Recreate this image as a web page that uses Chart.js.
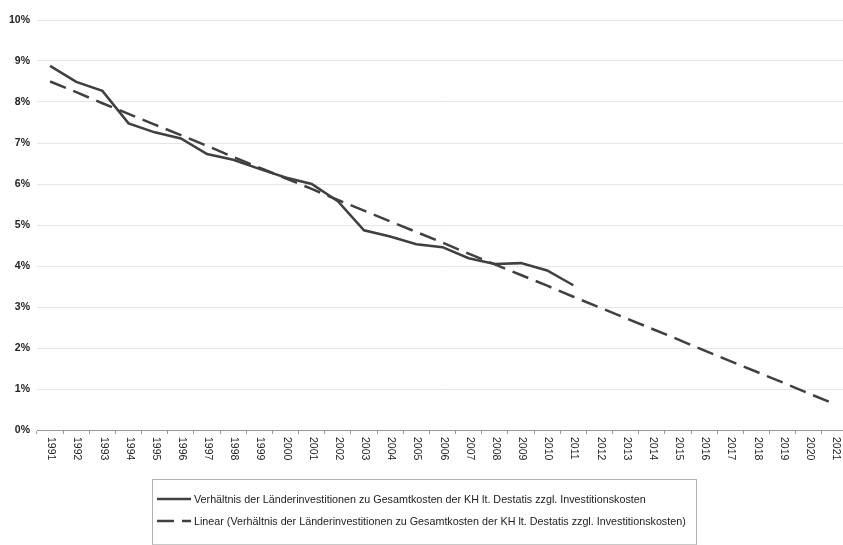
<!DOCTYPE html>
<html>
<head>
<meta charset="utf-8">
<script src="https://cdn.jsdelivr.net/npm/chart.js@4"></script>
<style>
    body { margin: 0; overflow: hidden; background: #fff; font-family: Arial, "Liberation Sans", sans-serif; }
    #wrap { position: relative; width: 850px; height: 545px; }
    #legend { position: absolute; left: 152px; top: 479px; width: 543px; height: 64px; border: 1px solid #b0b0b0; border-bottom-color: #c8c8c8; }
    #legend ul { list-style: none; margin: 0; padding: 0; }
    #legend li { position: absolute; left: 4px; height: 14px; font-size: 10.75px; color: #222; white-space: nowrap; display: flex; align-items: center; }
    #legend svg { margin-right: 3px; }
</style>
</head>
<body>
<div id="wrap">
    <canvas id="line-chart" width="850" height="545"></canvas>
    <div id="legend"></div>
</div>
<script>
var years = ['1991', '1992', '1993', '1994', '1995', '1996', '1997', '1998', '1999', '2000',
    '2001', '2002', '2003', '2004', '2005', '2006', '2007', '2008', '2009', '2010',
    '2011', '2012', '2013', '2014', '2015', '2016', '2017', '2018', '2019', '2020', '2021'];

// Verhältnis in %, bis 2011
var verhaeltnis = [8.88, 8.49, 8.27, 7.48, 7.26, 7.11, 6.73, 6.59, 6.37, 6.16,
    6.00, 5.58, 4.87, 4.72, 4.53, 4.46, 4.19, 4.05, 4.07, 3.89, 3.53];

// lineare Trendlinie
var linear = [8.50, 8.24, 7.97, 7.71, 7.45, 7.19, 6.93, 6.66, 6.40, 6.14,
    5.88, 5.61, 5.35, 5.09, 4.83, 4.57, 4.30, 4.04, 3.78, 3.52,
    3.25, 2.99, 2.73, 2.47, 2.21, 1.94, 1.68, 1.42, 1.16, 0.89, 0.63];

var yTicks = [0, 1, 2, 3, 4, 5, 6, 7, 8, 9, 10];

var seriesName = 'Verhältnis der Länderinvestitionen zu Gesamtkosten der KH lt. Destatis zzgl. Investitionskosten';

// x labels rotated clockwise (top to bottom)
var xLabelPlugin = {
    id: 'xLabels',
    afterDraw: function (chart) {
        var ctx = chart.ctx;
        var xs = chart.scales.x;
        ctx.save();
        ctx.font = '10.5px Arial, "Liberation Sans", sans-serif';
        ctx.fillStyle = '#222';
        ctx.textAlign = 'left';
        ctx.textBaseline = 'middle';
        years.forEach(function (y, i) {
            ctx.save();
            ctx.translate(xs.getPixelForValue(i) + 1, xs.top + 7);
            ctx.rotate(Math.PI / 2);
            ctx.fillText(y, 0, 0);
            ctx.restore();
        });
        ctx.restore();
    }
};

function buildLegend(chart) {
    var items = [];
    var rowTop = [12, 34];
    chart.data.datasets.forEach(function (ds, i) {
        var dash = ds.borderDash && ds.borderDash.length ? ' stroke-dasharray="' + ds.borderDash.join(',') + '"' : '';
        items.push('<li style="top:' + rowTop[i] + 'px"><svg width="34" height="6"><line x1="0" y1="3" x2="34" y2="3" stroke="' +
            ds.borderColor + '" stroke-width="2.5"' + dash + '/></svg>' + ds.label + '</li>');
    });
    document.getElementById('legend').innerHTML = '<ul>' + items.join('') + '</ul>';
}

var ctx = document.getElementById('line-chart').getContext('2d');
var myChart = new Chart(ctx, {
    type: 'line',
    data: {
        labels: years,
        datasets: [
            {
                label: seriesName,
                data: verhaeltnis,
                borderColor: '#404040',
                borderWidth: 2.5,
                pointRadius: 0,
                tension: 0,
                fill: false
            },
            {
                label: 'Linear (' + seriesName + ')',
                data: linear,
                borderColor: '#404040',
                borderWidth: 2.5,
                borderDash: [17, 8],
                pointRadius: 0,
                tension: 0,
                fill: false
            }
        ]
    },
    options: {
        responsive: false,
        animation: false,
        layout: { padding: { top: 20, right: 2, left: 0, bottom: 0 } },
        plugins: {
            legend: { display: false },
            tooltip: { enabled: false }
        },
        scales: {
            x: {
                offset: true,
                afterFit: function (s) { s.height = 115; },
                grid: { drawOnChartArea: false, drawTicks: true, tickLength: 4, color: '#999', offset: true },
                border: { display: true, color: '#999' },
                ticks: { display: false }
            },
            y: {
                min: 0,
                max: 10,
                afterFit: function (s) { s.width = 37; },
                afterBuildTicks: function (s) { s.ticks = yTicks.map(function (v) { return { value: v }; }); },
                grid: { color: '#e6e6e6', drawTicks: false },
                border: { display: false },
                ticks: {
                    padding: 7,
                    color: '#222',
                    font: { family: 'Arial, "Liberation Sans", sans-serif', size: 10.5, weight: 'bold' },
                    callback: function (v) { return v + '%'; }
                }
            }
        }
    },
    plugins: [xLabelPlugin]
});
buildLegend(myChart);
</script>
</body>
</html>
